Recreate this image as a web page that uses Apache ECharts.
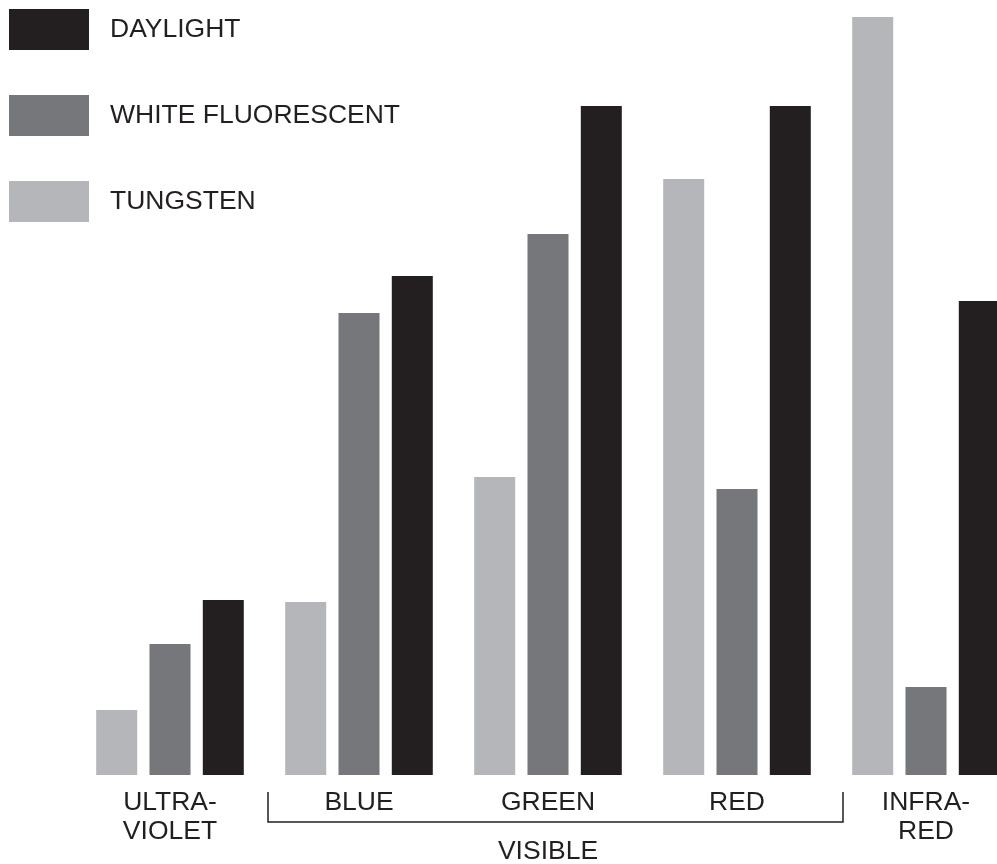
<!DOCTYPE html>
<html>
<head>
<meta charset="utf-8">
<script src="https://cdn.jsdelivr.net/npm/echarts@6/dist/echarts.min.js"></script>
<style>
html,body{margin:0;padding:0;background:#fff;overflow:hidden;width:997px;height:864px;}
#chart{width:1024px;height:864px;}
</style>
</head>
<body>
<div id="chart"></div>
<script>
// Categories (spectral regions)
var categories = ['ULTRA-\nVIOLET', 'BLUE', 'GREEN', 'RED', 'INFRA-\nRED'];
// Relative output of each light source per region
var tungsten    = [65, 173, 298, 596, 758];
var fluorescent = [131, 462, 541, 286, 88];
var daylight    = [175, 499, 669, 669, 474];
var seriesNames = ['TUNGSTEN', 'WHITE FLUORESCENT', 'DAYLIGHT'];
var legendOrder = ['DAYLIGHT', 'WHITE FLUORESCENT', 'TUNGSTEN'];
var bracketLabel = 'VISIBLE';

var FONT = '"Liberation Sans", Arial, Helvetica, sans-serif';
var TXT = '#231f20';
var colors = ['#b5b6ba', '#76777b', '#231f20'];

var chart = echarts.init(document.getElementById('chart'), null, {renderer: 'canvas'});
var dataSets = [tungsten, fluorescent, daylight];
var series = seriesNames.map(function (n, i) {
  return {
    name: n,
    type: 'bar',
    data: dataSets[i],
    barWidth: 41,
    barGap: '30%',
    itemStyle: {color: colors[i]},
    emphasis: {disabled: true},
    animation: false
  };
});

chart.setOption({
  animation: false,
  color: colors,
  legend: {
    orient: 'vertical',
    left: 9,
    top: 9,
    padding: 0,
    itemWidth: 80,
    itemHeight: 41,
    itemGap: 45,
    icon: 'rect',
    data: legendOrder,
    selectedMode: false,
    textStyle: {fontFamily: FONT, fontSize: 26.5, color: TXT, padding: [0, 0, 0, 16]}
  },
  grid: {left: 75.5, top: 17, width: 945, height: 758, containLabel: false},
  xAxis: {
    type: 'category',
    data: categories,
    axisLine: {show: false},
    axisTick: {show: false},
    axisLabel: {
      interval: 0,
      margin: 13,
      fontFamily: FONT,
      fontSize: 26.5,
      lineHeight: 29,
      color: TXT,
      align: 'center'
    }
  },
  yAxis: {
    type: 'value',
    min: 0,
    max: 758,
    show: false,
    splitLine: {show: false}
  },
  series: series,
  graphic: [
    {
      type: 'polyline',
      shape: {points: [[268, 792], [268, 822], [843, 822], [843, 792]]},
      style: {stroke: TXT, lineWidth: 1.5, fill: null}
    },
    {
      type: 'text',
      x: 548,
      y: 852,
      style: {
        text: bracketLabel,
        fontFamily: FONT,
        fontSize: 26.5,
        fill: TXT,
        align: 'center',
        verticalAlign: 'middle'
      }
    }
  ]
});
</script>
</body>
</html>
